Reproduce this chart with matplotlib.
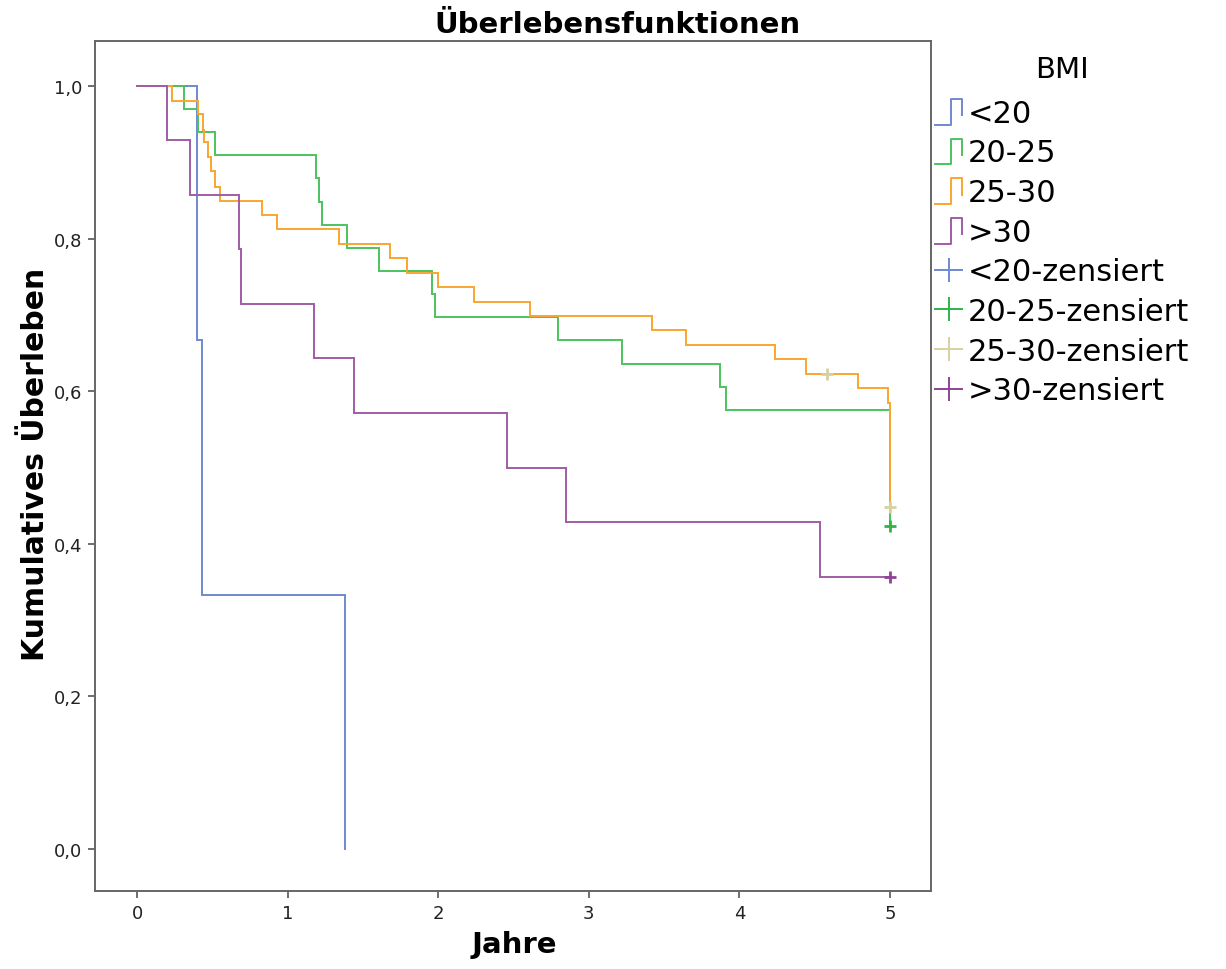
import matplotlib
matplotlib.use("Agg")
import matplotlib.pyplot as plt
from matplotlib.lines import Line2D
from matplotlib.legend_handler import HandlerBase
from matplotlib.ticker import FuncFormatter

# ---- data ----
groups = ["<20", "20-25", "25-30", ">30"]

lt20_t = [0.0, 0.40, 0.43, 1.38]
lt20_s = [1.0, 0.667, 0.333, 0.0]

g2025_t = [0.0, 0.31, 0.407, 0.52, 1.189, 1.21, 1.226, 1.394, 1.605, 1.961, 1.979,
           2.793, 3.222, 3.873, 3.911, 5.0]
g2025_s = [1.0, 0.970, 0.940, 0.909, 0.879, 0.848, 0.818, 0.788, 0.758, 0.727, 0.697,
           0.667, 0.636, 0.606, 0.576, 0.424]

g2530_t = [0.0, 0.232, 0.407, 0.436, 0.445, 0.471, 0.489, 0.518, 0.549, 0.830, 0.932,
           1.341, 1.682, 1.793, 1.997, 2.24, 2.61, 3.422, 3.648, 4.234, 4.442, 4.785,
           4.985, 5.0]
g2530_s = [1.0, 0.981, 0.963, 0.943, 0.926, 0.907, 0.888, 0.868, 0.849, 0.831, 0.812,
           0.793, 0.774, 0.755, 0.736, 0.717, 0.698, 0.680, 0.661, 0.642, 0.623, 0.604,
           0.584, 0.448]

gt30_t = [0.0, 0.197, 0.355, 0.68, 0.69, 1.175, 1.44, 2.457, 2.85, 4.535]
gt30_s = [1.0, 0.929, 0.857, 0.786, 0.714, 0.643, 0.571, 0.500, 0.429, 0.357]

# end of follow-up for each curve (horizontal extension)
end_t = [1.38, 5.0, 5.0, 5.0]

# censored observations
cens_2025_t = [5.0]
cens_2025_s = [0.424]
cens_2530_t = [4.584, 5.0]
cens_2530_s = [0.623, 0.448]
cens_gt30_t = [5.0]
cens_gt30_s = [0.357]

line_colors = ["#7089cf", "#4cc35e", "#f8a62e", "#a05ca6"]
cens_colors = ["#7089cf", "#2fb44a", "#d9d0a0", "#8e4394"]

xticks = [0, 1, 2, 3, 4, 5]
yticks = [0.0, 0.2, 0.4, 0.6, 0.8, 1.0]

# ---- figure ----
fig = plt.figure(figsize=(12.26, 9.70), dpi=100)
ax = fig.add_axes([0.0775, 0.0804, 0.6819, 0.8763])

series = [(lt20_t, lt20_s), (g2025_t, g2025_s), (g2530_t, g2530_s), (gt30_t, gt30_s)]
for (t, s), e, c in zip(series, end_t, line_colors):
    tt = list(t) + ([e] if e > t[-1] else [])
    ss = list(s) + ([s[-1]] if e > t[-1] else [])
    ax.step(tt, ss, where="post", color=c, lw=1.4, solid_joinstyle="miter")

ax.plot(cens_2025_t, cens_2025_s, ls="none", marker="+", ms=9, mew=2.0, color=cens_colors[1])
ax.plot(cens_2530_t, cens_2530_s, ls="none", marker="+", ms=9, mew=2.0, color=cens_colors[2])
ax.plot(cens_gt30_t, cens_gt30_s, ls="none", marker="+", ms=9, mew=2.0, color=cens_colors[3])

ax.set_xlim(-0.279, 5.273)
ax.set_ylim(-0.055, 1.059)
ax.set_xticks(xticks)
ax.set_yticks(yticks)
ax.xaxis.set_major_formatter(FuncFormatter(lambda v, p: f"{v:g}"))
ax.yaxis.set_major_formatter(FuncFormatter(lambda v, p: f"{v:.1f}".replace(".", ",")))
ax.tick_params(direction="out", length=5, width=1.2, color="#555555",
               labelsize=13, labelcolor="#222222", pad=4)
for sp in ax.spines.values():
    sp.set_color("#666666")
    sp.set_linewidth(1.4)

fig.text(0.504, 0.974, "Überlebensfunktionen", ha="center", va="center",
         fontsize=21, fontweight="bold")
fig.text(0.4195, 0.0258, "Jahre", ha="center", va="center", fontsize=21, fontweight="bold")
fig.text(0.029, 0.5216, "Kumulatives Überleben", ha="center", va="center",
         rotation=90, fontsize=21.5, fontweight="bold")


# ---- legend with step-shaped icons ----
class StepHandle:
    def __init__(self, color):
        self.color = color


class StepHandler(HandlerBase):
    def create_artists(self, legend, orig_handle, xdescent, ydescent, width, height,
                       fontsize, trans):
        x0, y0 = -xdescent, -ydescent
        xs = [x0, x0 + 0.6 * width, x0 + 0.6 * width, x0 + width, x0 + width]
        ys = [y0 - 0.15 * height, y0 - 0.15 * height, y0 + 1.05 * height,
              y0 + 1.05 * height, y0 + 0.3 * height]
        ln = Line2D(xs, ys, color=orig_handle.color, lw=1.4, transform=trans)
        return [ln]


handles = [StepHandle(c) for c in line_colors]
labels = list(groups)
for c, g in zip(cens_colors, groups):
    handles.append(Line2D([], [], color=c, lw=1.4, marker="|", ms=17, mew=1.4))
    labels.append(g + "-zensiert")

leg = fig.legend(handles, labels, handler_map={StepHandle: StepHandler()},
                 loc="upper left", bbox_to_anchor=(0.7626, 0.942), frameon=False,
                 title="BMI", fontsize=22, title_fontsize=21, handlelength=0.9,
                 handleheight=0.7, handletextpad=0.17, labelspacing=0.35,
                 borderaxespad=0, borderpad=0)
leg._legend_box.align = "center"
leg._legend_box.sep = 11

fig.savefig("out.png", dpi=100, facecolor="white")
